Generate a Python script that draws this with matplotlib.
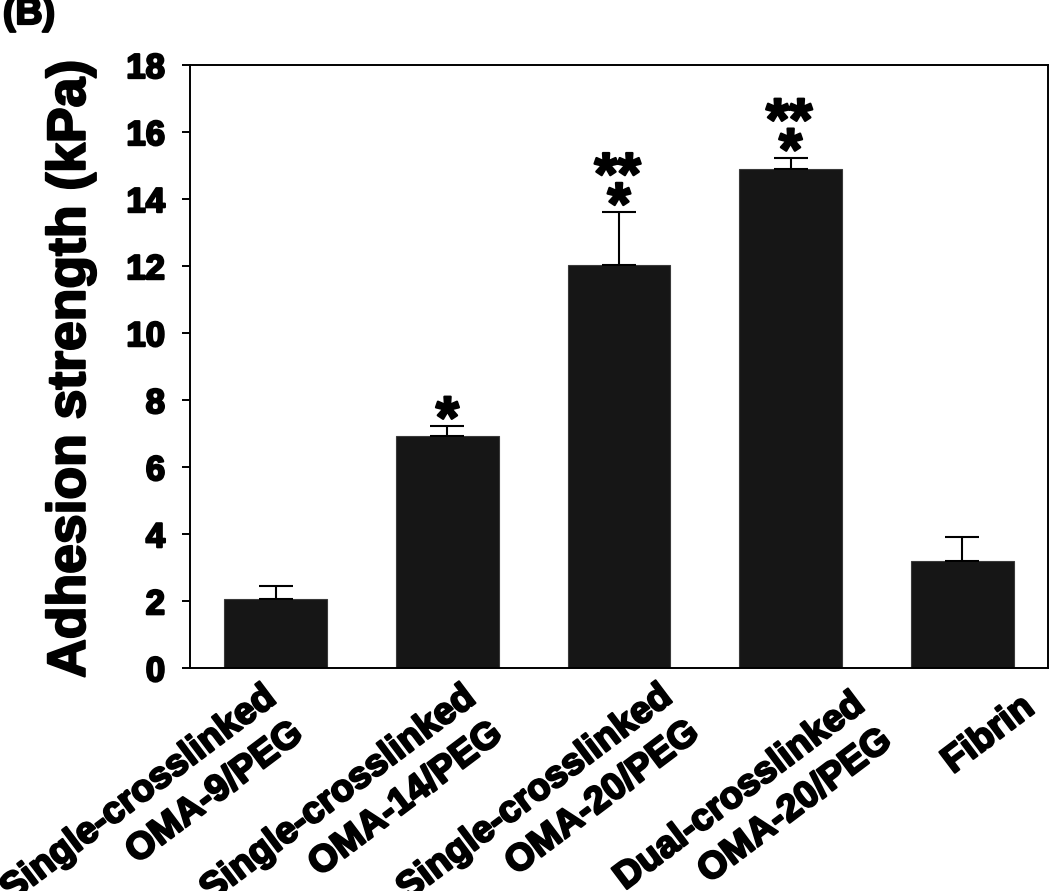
import numpy as np
import matplotlib
matplotlib.use("Agg")
import matplotlib.pyplot as plt
import matplotlib.patheffects as pe

# data
groups = ["Single-crosslinked\nOMA-9/PEG", "Single-crosslinked\nOMA-14/PEG",
          "Single-crosslinked\nOMA-20/PEG", "Dual-crosslinked\nOMA-20/PEG", "Fibrin"]
means = [2.07, 6.93, 12.03, 14.89, 3.21]
sd = [0.38, 0.30, 1.58, 0.34, 0.70]
star_low = ["", "*", "*", "*", ""]
star_high = ["", "", "**", "**", ""]
yticks = [0, 2, 4, 6, 8, 10, 12, 14, 16, 18]

plt.rcParams['font.family'] = ['Liberation Sans', 'DejaVu Sans']
plt.rcParams['font.weight'] = 'bold'
heavy = [pe.withStroke(linewidth=1.6, foreground='black')]

fig = plt.figure(figsize=(10.5, 8.91), dpi=100)
ax = fig.add_axes([0.181, 0.250, 0.817, 0.677])

x = np.arange(len(groups))
ax.bar(x, means, width=0.6, color='#161616', edgecolor='#3a3a3a', linewidth=0.8, zorder=2)
ax.errorbar(x, means, yerr=[np.zeros(len(sd)), sd], fmt='none', ecolor='black',
            elinewidth=1.5, capsize=12, capthick=1.5, zorder=3)

# significance stars above the error bars (offsets in points from the cap)
for i in range(len(groups)):
    top = means[i] + sd[i]
    if star_low[i]:
        ax.annotate(star_low[i], (x[i], top), xytext=(0, -8.5), textcoords='offset points',
                    ha='center', va='baseline', fontsize=43, path_effects=heavy)
    if star_high[i]:
        ax.annotate(star_high[i], (x[i], top), xytext=(-1, 13), textcoords='offset points',
                    ha='center', va='baseline', fontsize=43, path_effects=heavy)

ax.set_xlim(-0.5, len(groups) - 0.5)
ax.set_ylim(0, 18)
ax.set_yticks(yticks)
ax.set_yticklabels([str(t) for t in yticks])
ax.set_xticks(x)
ax.set_xticklabels([])
ax.tick_params(axis='x', length=0)
ax.tick_params(axis='y', direction='out', length=6, width=1.4, pad=12, labelsize=25)
for t in ax.get_yticklabels():
    t.set_path_effects(heavy)
for s in ax.spines.values():
    s.set_linewidth(1.4)

# rotated group labels, hand-nudged like the original layout (pixels)
shift_x = [-15, 13, 38, 59, 57]
shift_y = [11, 11, 10, 18, 21]
for i, lab in enumerate(groups):
    ax.annotate(lab, (x[i], 0), xycoords=('data', 'axes fraction'),
                xytext=(shift_x[i] * 0.72, -shift_y[i] * 0.72), textcoords='offset points',
                rotation=37, rotation_mode='anchor', ha='right', va='top',
                fontsize=27, linespacing=1.32, path_effects=heavy, annotation_clip=False)

ax.set_ylabel("Adhesion strength (kPa)", fontsize=38.5, fontweight='bold', path_effects=heavy)
ax.yaxis.set_label_coords(-0.11, 0.497)

fig.text(3 / 1050, 1 - 24 / 891, "(B)", fontsize=27, va='baseline', ha='left', path_effects=heavy)

fig.savefig("out.png", dpi=100)
